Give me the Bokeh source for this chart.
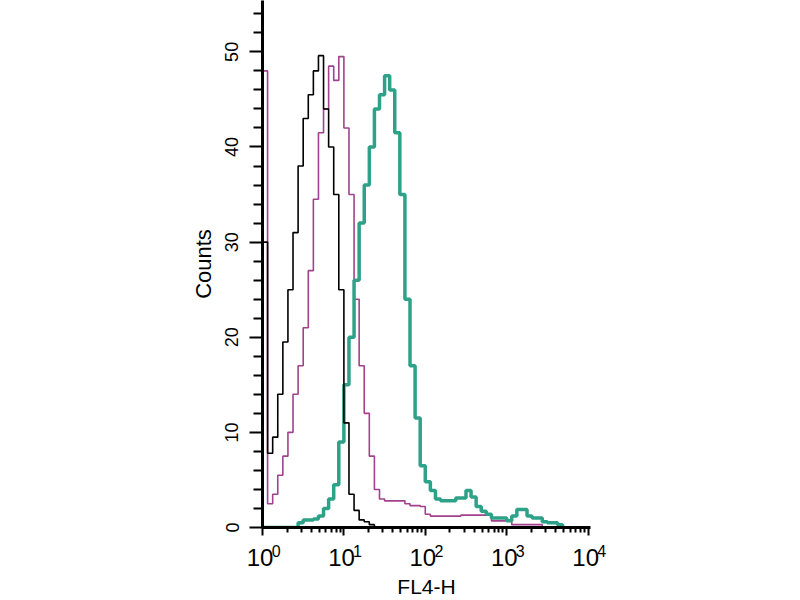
from bokeh.plotting import figure
from bokeh.models import Range1d, FixedTicker, LogAxis
from bokeh.embed import file_html
from bokeh.resources import INLINE

# Histogram counts per channel bin (16 bins per decade, starting at 10^0)
bins_per_decade = 16
black_counts = [30, 7.8, 9.5, 14, 19.5, 25, 31, 38, 43, 45.5, 48, 49.6, 44, 40, 35, 25,
                11, 3.5, 1.8, 0.8, 0.6, 0.3]
magenta_counts = [48, 2.5, 3.5, 5.5, 7.5, 10, 14, 17, 21, 27, 34.5, 41.5, 44, 48.5, 47, 49.5,
                  42, 35, 24, 17, 12, 7.5, 4, 3, 2.8, 2.8, 2.8, 2.8, 2.5, 2.3, 2.3, 2.2,
                  1.4, 1.2, 1.2, 1.2, 1.2, 1.2, 1.2, 1.3, 1.3, 1.3, 1.3, 1.3, 1.3, 0.7,
                  0.7, 0.7, 0.7, 0.3, 0.3, 0.3, 0.3, 0.3, 0.3]
teal_counts = [0, 0, 0, 0, 0, 0, 0, 0.5, 0.8, 0.8, 0.9, 1.2, 2.0, 3.0, 4.5, 9,
               15, 20, 26, 32, 36, 40, 44, 45.5, 47.5, 46, 41.5, 35, 24, 17, 11.5, 6.5,
               4.8, 3.9, 3.0, 2.8, 2.8, 2.8, 3.1, 3.1, 3.9, 3.2, 2.2, 1.7, 1.4, 1.0,
               1.0, 1.0, 0.7, 1.2, 1.9, 1.9, 1.2, 1.0, 1.0, 0.6, 0.5, 0.5, 0.3]

y_major = [0, 10, 20, 30, 40, 50]
y_minor = [2, 4, 6, 8, 12, 14, 16, 18, 22, 24, 26, 28, 32, 34, 36, 38, 42, 44, 46, 48, 52, 54]
x_major = [1, 10, 100, 1000, 10000]
x_exponents = ["0", "1", "2", "3", "4"]
x_minor = [m * d for d in [1, 10, 100, 1000] for m in range(2, 10)]


def step_xy(counts):
    n = len(counts)
    edges = [10 ** (i / bins_per_decade) for i in range(n + 1)]
    ys = list(counts) + [0]
    return edges + [edges[-1]], ys + [0]


p = figure(width=800, height=600, output_backend="svg", toolbar_location=None,
           x_axis_type="log", x_range=Range1d(1, 10 ** 4.03), y_range=Range1d(0, 55.4),
           min_border_left=262, min_border_right=210, min_border_top=0, min_border_bottom=70)
p.grid.visible = False
p.outline_line_color = None
p.background_fill_color = "white"
p.border_fill_color = "white"

xm, ym = step_xy(magenta_counts)
p.step(xm, ym, mode="after", line_color="#a2418c", line_width=1.6)
xt, yt = step_xy(teal_counts)
p.step(xt, yt, mode="after", line_color="#2ea288", line_width=3.5)
xb, yb = step_xy(black_counts)
p.step(xb, yb, mode="after", line_color="black", line_width=1.6)

font = "Liberation Sans"
# main x axis: line, ticks and the "10" base of each label
xa = p.xaxis[0]
xa.ticker = FixedTicker(ticks=x_major, minor_ticks=x_minor)
xa.major_label_overrides = {t: "10\u2009" for t in x_major}
xa.axis_line_width = 3
xa.major_tick_line_width = 2
xa.minor_tick_line_width = 2
xa.major_tick_out = 8
xa.major_tick_in = 0
xa.minor_tick_out = 5
xa.minor_tick_in = 0
xa.major_label_text_font = font
xa.major_label_text_font_size = "24px"
xa.major_label_text_color = "black"
xa.major_label_standoff = 8

# second x axis carrying the raised exponents and the axis title
xe = LogAxis(ticker=FixedTicker(ticks=x_major, minor_ticks=[]))
xe.major_label_overrides = {t: "\u2003\u2002\u2009" + e for t, e in zip(x_major, x_exponents)}
xe.axis_line_color = None
xe.major_tick_line_color = None
xe.minor_tick_line_color = None
xe.major_tick_out = 0
xe.major_tick_in = 0
xe.minor_tick_out = 0
xe.minor_tick_in = 0
xe.major_label_text_font = font
xe.major_label_text_font_size = "16px"
xe.major_label_text_color = "black"
xe.major_label_standoff = -31
xe.axis_label = "FL4-H"
xe.axis_label_text_font = font
xe.axis_label_text_font_style = "normal"
xe.axis_label_text_font_size = "21px"
xe.axis_label_text_color = "black"
xe.axis_label_standoff = 12
p.add_layout(xe, "below")

ya = p.yaxis[0]
ya.ticker = FixedTicker(ticks=y_major, minor_ticks=y_minor)
ya.axis_line_width = 3
ya.major_tick_line_width = 2
ya.minor_tick_line_width = 2
ya.major_tick_out = 13
ya.major_tick_in = 0
ya.minor_tick_out = 9
ya.minor_tick_in = 0
ya.major_label_orientation = "vertical"
ya.major_label_text_font = font
ya.major_label_text_font_size = "18px"
ya.major_label_text_color = "black"
ya.major_label_standoff = 11
ya.axis_label = "Counts"
ya.axis_label_text_font = font
ya.axis_label_text_font_style = "normal"
ya.axis_label_text_font_size = "22px"
ya.axis_label_text_color = "black"
ya.axis_label_standoff = 7

open("out.html", "w").write(file_html(p, INLINE))
